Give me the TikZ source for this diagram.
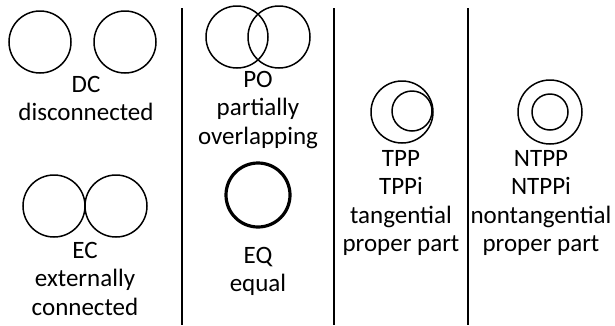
\documentclass[tikz,border=0pt]{standalone}
\usepackage{fontspec}
\setmainfont{Carlito}
\tikzset{
  region/.style={draw, circle, line width=1.5pt, inner sep=0pt, minimum size=#1},
  region/.default=62pt,
  caption/.style={align=center, anchor=north, inner sep=0pt,
    font=\fontsize{25}{28.5}\selectfont},
  divider/.style={line width=2.8pt}
}
\begin{document}
\begin{tikzpicture}[x=1pt,y=-1pt]
\useasboundingbox (0,0) rectangle (615,325);
% DC
\node[region] (dca) at (40,42) {};
\node[region] (dcb) at (125,42) {};
\node[caption] (dc) at (86,76) {DC\\disconnected};
% EC
\node[region] (eca) at (54,206) {};
\node[region] (ecb) at (116,206) {};
\node[caption] (ec) at (85,242) {EC\\externally\\connected};
\draw[divider] (182,8) -- (182,325);
% PO
\node[region] (poa) at (237,37) {};
\node[region] (pob) at (279,37) {};
\node[caption] (po) at (258,71) {PO\\partially\\overlapping};
% EQ
\node[region=64pt, line width=3.2pt] (eq) at (258,195) {};
\node[caption] (eqt) at (258,247) {EQ\\equal};
\draw[divider] (334,8) -- (334,325);
% TPP
\node[region] (tppo) at (402,112) {};
\node[region=40pt] (tppi) at (412,111) {};
\node[caption] (tpp) at (401,150) {TPP\\TPPi\\tangential\\proper part};
\draw[divider] (468,8) -- (468,325);
% NTPP
\node[region=64pt] (ntppo) at (550,112) {};
\node[region=36pt] (ntppi) at (550,112) {};
\node[caption] (ntpp) at (541,150) {NTPP\\NTPPi\\nontangential\\proper part};
\end{tikzpicture}
\end{document}
